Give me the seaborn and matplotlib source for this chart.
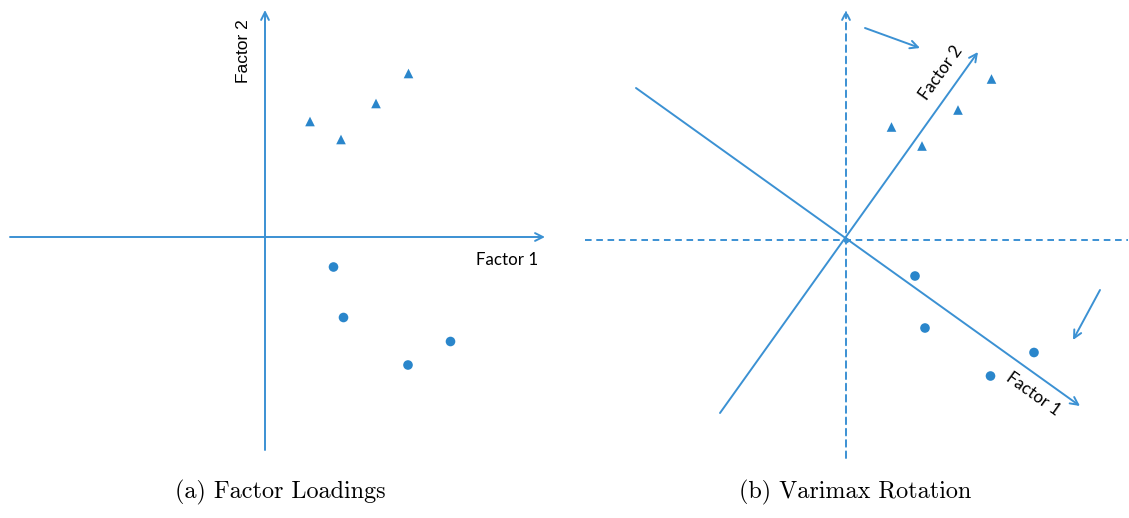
import matplotlib
matplotlib.use("Agg")
import matplotlib.pyplot as plt
import numpy as np
import pandas as pd
import seaborn as sns

sns.set_theme(style="white")
plt.rcParams["font.family"] = ["Lato", "DejaVu Sans"]
plt.rcParams["text.color"] = "black"
plt.rcParams["axes.unicode_minus"] = False

BLUE = "#3b91d3"
MARK = "#2a86cb"

# loadings (1 unit = 100 px)
load_f1_tri = [0.45, 0.76, 1.11, 1.435]
load_f2_tri = [1.155, 0.975, 1.335, 1.635]
load_f1_dot = [0.685, 0.785, 1.43, 1.855]
load_f2_dot = [-0.30, -0.805, -1.28, -1.045]

rot_f1_tri = [0.455, 0.76, 1.12, 1.455]
rot_f2_tri = [1.13, 0.94, 1.30, 1.61]
rot_f1_dot = [0.69, 0.79, 1.88, 1.445]
rot_f2_dot = [-0.36, -0.88, -1.125, -1.36]

# axes extents
left_x_axis = [-2.55, 2.80]
left_y_axis = [-2.13, 2.27]
right_x_axis = [-2.61, 2.82]
right_y_axis = [-2.18, 2.30]
rot_f2_start, rot_f2_end = (-1.26, -1.73), (1.32, 1.88)
rot_f1_start, rot_f1_end = (-2.10, 1.52), (2.34, -1.66)
hint_top = [(0.19, 2.12), (0.74, 1.92)]
hint_right = [(2.54, -0.50), (2.27, -1.00)]


def make_df(f1_tri, f2_tri, f1_dot, f2_dot):
    return pd.DataFrame({
        "f1": f1_tri + f1_dot,
        "f2": f2_tri + f2_dot,
        "group": ["tri"] * len(f1_tri) + ["dot"] * len(f1_dot),
    })


def arrow(ax, start, end, ls="-"):
    ax.annotate("", xy=end, xytext=start,
                arrowprops=dict(arrowstyle="->", color=BLUE, lw=1.4, linestyle=ls,
                                mutation_scale=14, shrinkA=0, shrinkB=0))


def draw_points(ax, df):
    sns.scatterplot(data=df, x="f1", y="f2", style="group",
                    markers={"tri": "^", "dot": "o"}, color=MARK,
                    s=48, linewidth=0, legend=False, ax=ax)


fig = plt.figure(figsize=(11.29, 5.18), dpi=100)

ax1 = fig.add_axes([0, 0, 0.5, 1])
ax1.set_xlim(-2.65, 2.995)
ax1.set_ylim(-2.81, 2.37)
arrow(ax1, (left_x_axis[0], 0), (left_x_axis[1], 0))
arrow(ax1, (0, left_y_axis[0]), (0, left_y_axis[1]))
draw_points(ax1, make_df(load_f1_tri, load_f2_tri, load_f1_dot, load_f2_dot))
ax1.text(2.42, -0.23, "Factor 1", fontsize=12.2, ha="center", va="center")
ax1.text(-0.22, 1.86, "Factor 2", fontsize=12.5, ha="center", va="center",
         rotation=90, family=["Liberation Sans", "DejaVu Sans"])
ax1.text(0.15, -2.55, "(a) Factor Loadings", fontsize=17.4, ha="center", va="center",
         family="cmr10")

ax2 = fig.add_axes([0.5, 0, 0.5, 1])
ax2.set_xlim(-2.815, 2.83)
ax2.set_ylim(-2.78, 2.40)
ax2.plot(right_x_axis, [0, 0], color=BLUE, lw=1.4, dashes=(3.4, 2.4))
arrow(ax2, (0, right_y_axis[0]), (0, right_y_axis[1]), ls=(0, (3.4, 2.4)))
arrow(ax2, rot_f2_start, rot_f2_end)
arrow(ax2, rot_f1_start, rot_f1_end)
arrow(ax2, hint_top[0], hint_top[1])
arrow(ax2, hint_right[0], hint_right[1])
ax2.plot([0], [0], "o", color=BLUE, ms=3)
draw_points(ax2, make_df(rot_f1_tri, rot_f2_tri, rot_f1_dot, rot_f2_dot))
ax2.text(0.95, 1.67, "Factor 2", fontsize=12.2, ha="center", va="center", rotation=54.4)
ax2.text(1.87, -1.54, "Factor 1", fontsize=12.2, ha="center", va="center", rotation=-35.6)
ax2.text(0.09, -2.52, "(b) Varimax Rotation", fontsize=17.4, ha="center", va="center",
         family="cmr10")

for ax in (ax1, ax2):
    ax.set_axis_off()

fig.savefig("out.png", dpi=100)
